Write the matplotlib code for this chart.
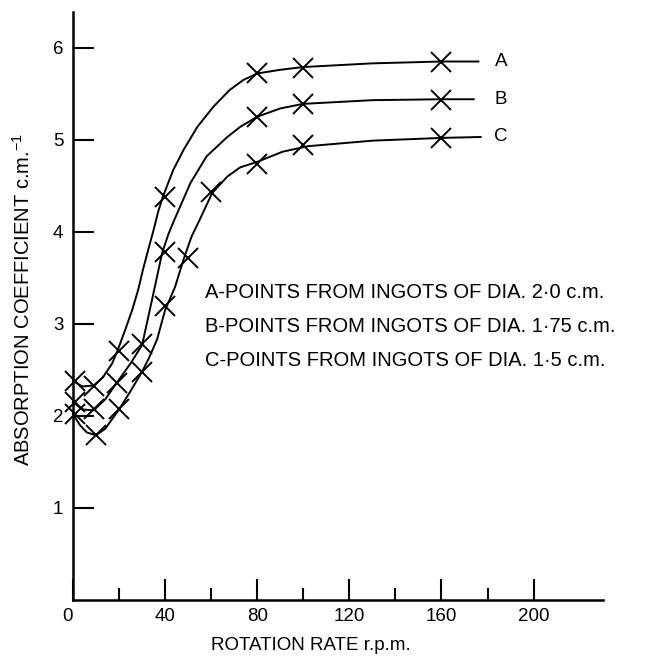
import numpy as np
import matplotlib
matplotlib.use('Agg')
import matplotlib.pyplot as plt

plt.rcParams['font.family'] = ['Liberation Sans', 'DejaVu Sans']
plt.rcParams['mathtext.fontset'] = 'custom'
plt.rcParams['mathtext.rm'] = 'Liberation Sans'

# measured points (crosses)
a_x = [1, 9, 20, 40, 80, 100, 160]
a_y = [2.38, 2.33, 2.71, 4.38, 5.72, 5.78, 5.85]
b_x = [1, 9, 19, 30, 40, 80, 100, 160]
b_y = [2.15, 2.07, 2.36, 2.78, 3.78, 5.25, 5.39, 5.43]
c_x = [1, 10, 20, 30, 40, 50, 60, 80, 100, 160]
c_y = [2.02, 1.79, 2.07, 2.48, 3.19, 3.72, 4.43, 4.74, 4.94, 5.02]

# hand drawn curves
a_cx = [0, 4, 9, 13, 17, 19.5, 22.6, 25.7, 28.3, 30.4, 32.6, 35, 37, 39, 43.5, 48, 54, 61, 68, 74, 80, 90, 100, 130, 160, 176]
a_cy = [2.38, 2.32, 2.33, 2.42, 2.57, 2.72, 2.93, 3.15, 3.37, 3.59, 3.80, 4.02, 4.22, 4.38, 4.67, 4.89, 5.14, 5.36, 5.54, 5.65, 5.72, 5.76, 5.79, 5.83, 5.85, 5.85]
b_cx = [0, 4, 9, 14, 19, 25, 30, 34.3, 38.7, 41.5, 44, 51, 58, 67, 72.6, 80, 90, 100, 130, 160, 174]
b_cy = [2.15, 2.07, 2.06, 2.18, 2.36, 2.57, 2.77, 3.26, 3.77, 3.98, 4.13, 4.53, 4.82, 5.03, 5.14, 5.25, 5.34, 5.39, 5.43, 5.44, 5.44]
c_cx = [0, 3, 6, 10, 14, 20, 25, 30, 33, 36.5, 40, 44.3, 48, 51.5, 55, 60.4, 67, 72.6, 80, 91, 102, 130, 160, 177]
c_cy = [2.02, 1.90, 1.82, 1.79, 1.86, 2.07, 2.27, 2.48, 2.63, 2.83, 3.15, 3.40, 3.70, 3.95, 4.13, 4.42, 4.60, 4.70, 4.76, 4.87, 4.93, 4.99, 5.02, 5.03]

notes = ['A-POINTS FROM INGOTS OF DIA. 2·0 c.m.',
         'B-POINTS FROM INGOTS OF DIA. 1·75 c.m.',
         'C-POINTS FROM INGOTS OF DIA. 1·5 c.m.']

x_major = [0, 40, 80, 120, 160, 200]
x_minor = [20, 60, 100, 140, 180]
y_major = [1, 2, 3, 4, 5, 6]

fig = plt.figure(figsize=(6.46, 6.56), dpi=100)
ax = fig.add_axes([0.113, 0.0854, 0.82, 0.8966])

for cx, cy, px, py, lab in [(a_cx, a_cy, a_x, a_y, 'A'),
                            (b_cx, b_cy, b_x, b_y, 'B'),
                            (c_cx, c_cy, c_x, c_y, 'C')]:
    ax.plot(cx, cy, color='black', lw=1.4, clip_on=False)
    ax.plot(px, py, ls='none', marker='x', ms=14, mew=1.4, color='black', clip_on=False)
    ax.text(183, cy[-1], lab, fontsize=13.5, va='center', ha='left')

for i, t in enumerate(notes):
    ax.text(0.249, 0.522 - i * 0.0578, t, transform=ax.transAxes, fontsize=14.5, va='center', ha='left')

ax.set_xlim(0, 230)
ax.set_ylim(0, 6.39)
ax.spines['top'].set_visible(False)
ax.spines['right'].set_visible(False)
ax.spines['left'].set_linewidth(1.8)
ax.spines['bottom'].set_linewidth(1.8)

ax.set_xticks(x_major)
ax.set_xticks(x_minor, minor=True)
ax.set_yticks(y_major)
ax.tick_params(axis='both', which='major', direction='in', labelsize=13.5, width=1.5)
ax.tick_params(axis='x', which='major', length=15, pad=6)
ax.tick_params(axis='x', which='minor', direction='in', length=9, width=1.5)
ax.tick_params(axis='y', which='major', length=15, pad=7)
ax.get_xticklabels()[0].set_horizontalalignment('right')

ax.set_ylabel('ABSORPTION COEFFICIENT c.m.$^{-1}$', fontsize=14.5)
ax.yaxis.set_label_coords(-0.074, 0.51)
ax.text(0.45, -0.077, 'ROTATION RATE r.p.m.', transform=ax.transAxes,
        fontsize=13.5, ha='center', va='center')

fig.savefig('out.png', dpi=100)
